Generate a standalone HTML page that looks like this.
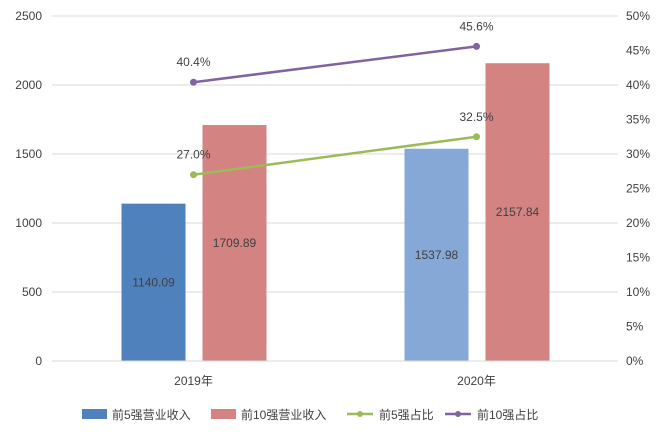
<!DOCTYPE html>
<html><head><meta charset="utf-8"><style>
body{margin:0;background:#fff;font-family:"Liberation Sans","Noto Sans CJK SC",sans-serif;}
svg text{font-family:"Liberation Sans","Noto Sans CJK SC",sans-serif;font-size:12px;fill:#404040;}
</style></head><body>
<svg id="chart" width="668" height="440"></svg>
<script>
const categories=["2019年","2020年"];
const top5Revenue=[1140.09,1537.98];
const top10Revenue=[1709.89,2157.84];
const top5Share=[27.0,32.5];
const top10Share=[40.4,45.6];
const leftTicks=[0,500,1000,1500,2000,2500];
const rightTicks=[0,5,10,15,20,25,30,35,40,45,50];
const svg=document.getElementById('chart');
const NS='http://www.w3.org/2000/svg';
const L=52,R=618,T=16,B=361;
const yL=v=>B-(v/2500)*(B-T);
const yR=v=>B-(v/50)*(B-T);
const xC=i=>L+(i+0.5)*(R-L)/categories.length;
function mk(tag,attrs,parent){const e=document.createElementNS(NS,tag);for(const k in attrs)e.setAttribute(k,attrs[k]);(parent||svg).appendChild(e);return e;}
leftTicks.forEach(v=>{
 const g=mk('line',{x1:L,x2:R,y1:yL(v),y2:yL(v),stroke:'#d9d9d9','stroke-width':1});
 
 
 const t=mk('text',{x:42,y:yL(v)+4,'text-anchor':'end'});t.textContent=v;
 
 
});
rightTicks.forEach(v=>{
 const t=mk('text',{x:626,y:yR(v)+4,'text-anchor':'start'});t.textContent=v+'%';
 
 
});
const bw=64;
categories.forEach((c,i)=>{
 const cx=xC(i);
 const b1=mk('rect',{x:cx-72,y:yL(top5Revenue[i]),width:bw,height:B-yL(top5Revenue[i]),fill:i==0?'#4f81bd':'#86a8d6'});
 
 
 const b2=mk('rect',{x:cx+9,y:yL(top10Revenue[i]),width:bw,height:B-yL(top10Revenue[i]),fill:i==0?'#d48383':'#d48383'});
 
 
 const l1=mk('text',{x:cx-40,y:(yL(top5Revenue[i])+B)/2+4,'text-anchor':'middle'});l1.textContent=top5Revenue[i].toFixed(2);
 
 
 const l2=mk('text',{x:cx+41,y:(yL(top10Revenue[i])+B)/2+4,'text-anchor':'middle'});l2.textContent=top10Revenue[i].toFixed(2);
 
 
 const ct=mk('text',{x:cx,y:385,'text-anchor':'middle'});ct.textContent=c;
 
 
});
const ax=mk('line',{x1:L,x2:R,y1:B,y2:B,stroke:'#d9d9d9'});


[[top5Share,'#9bbb59','top5-share'],[top10Share,'#8064a2','top10-share']].forEach(([d,col,n])=>{
 const pl=mk('polyline',{points:d.map((v,i)=>xC(i)+','+yR(v)).join(' '),fill:'none',stroke:col,'stroke-width':2.5});
 
 
 d.forEach((v,i)=>{
  const p=mk('circle',{cx:xC(i),cy:yR(v),r:3.5,fill:col});
  
  
  const t=mk('text',{x:xC(i),y:yR(v)-16,'text-anchor':'middle'});t.textContent=v.toFixed(1)+'%';
  
  
 });
});
const leg=[['rect','#4f81bd',82,'前5强营业收入'],['rect','#d48383',211,'前10强营业收入'],['line','#9bbb59',347,'前5强占比'],['line','#8064a2',445,'前10强占比']];
leg.forEach(([k,col,x,txt])=>{
 const g=mk('g',{});
 
 
 if(k=='rect')mk('rect',{x:x,y:409,width:25,height:10,fill:col},g);
 else{mk('line',{x1:x,x2:x+26,y1:414,y2:414,stroke:col,'stroke-width':2.5},g);mk('circle',{cx:x+13,cy:414,r:3,fill:col},g);}
 const t=mk('text',{x:x+(k=='rect'?30:32),y:419},g);t.textContent=txt;
});
</script>
</body></html>
